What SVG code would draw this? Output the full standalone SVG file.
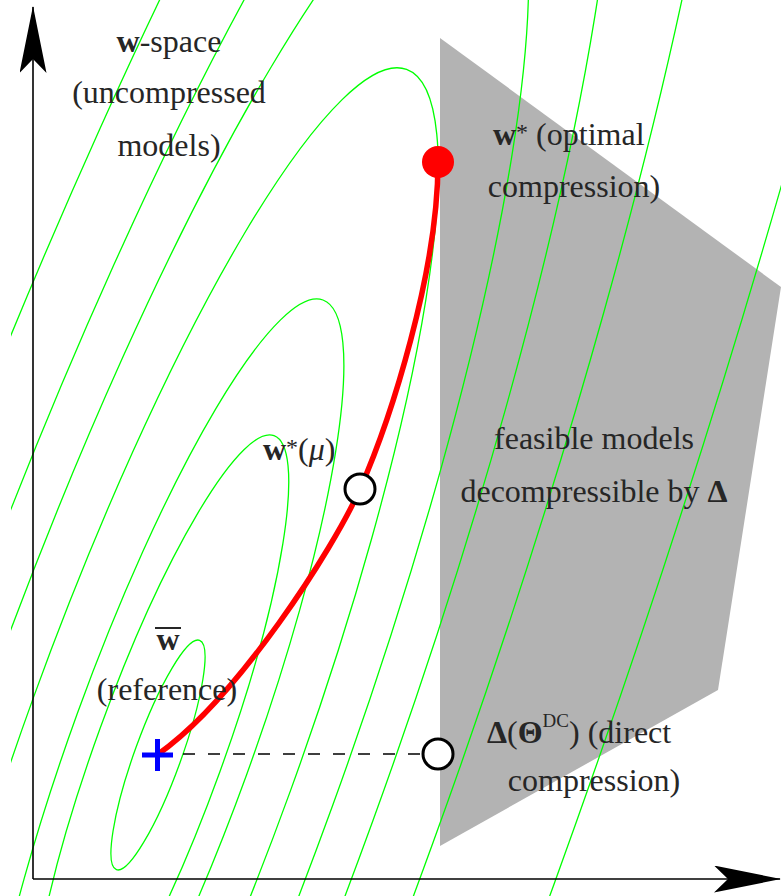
<svg xmlns="http://www.w3.org/2000/svg" width="781" height="896" viewBox="0 0 781 896">
<style>
.t{font-family:"Liberation Serif","DejaVu Serif",serif;font-size:32px;fill:#262626}
.c{text-anchor:middle}
.b{font-weight:bold}
.sup{font-size:24px}
.dc{font-size:19px}
.ct{fill:none;stroke:#00ff00;stroke-width:1.3}
.ax{stroke:#000;stroke-width:1.6;fill:none}
.open{fill:#fff;stroke:#000;stroke-width:3}
</style>
<defs>
<clipPath id="clip"><rect x="11" y="0" width="770" height="896"/></clipPath>
<marker id="arr" markerUnits="userSpaceOnUse" viewBox="0 0 67 27" refX="66" refY="13.5" markerWidth="67" markerHeight="27" orient="auto">
<path d="M0,0 L67,13.5 L0,27 L14,13.5 Z" fill="#000"/>
</marker>
</defs>
<rect width="781" height="896" fill="#fff"/>

<g id="feasible-region">
<polygon points="440,38 781,287 718,690 440,846" fill="#b3b3b3"/>
</g>

<g id="contours" clip-path="url(#clip)">
<ellipse class="ct" cx="158" cy="755" rx="122" ry="23.26" transform="rotate(-70.07 158 755)"/>
<ellipse class="ct" cx="160" cy="750" rx="334.4" ry="63.7" transform="rotate(-70.07 160 750)"/>
<ellipse class="ct" cx="162" cy="744" rx="472.3" ry="90" transform="rotate(-70.07 162 744)"/>
<ellipse class="ct" cx="162" cy="744" rx="717.6" ry="136.7" transform="rotate(-70.07 162 744)"/>
<ellipse class="ct" cx="162" cy="744" rx="951.9" ry="181.4" transform="rotate(-70.07 162 744)"/>
<ellipse class="ct" cx="162" cy="744" rx="1177.7" ry="224.4" transform="rotate(-70.07 162 744)"/>
<ellipse class="ct" cx="162" cy="744" rx="1513.3" ry="288.4" transform="rotate(-70.07 162 744)"/>
<ellipse class="ct" cx="162" cy="744" rx="2184.5" ry="416.3" transform="rotate(-70.07 162 744)"/>
</g>

<g id="axes">
<line class="ax" x1="33" y1="879" x2="33" y2="7" marker-end="url(#arr)"/>
<line class="ax" x1="33" y1="879" x2="780" y2="879" marker-end="url(#arr)"/>
</g>

<g id="connectors">
<line x1="183" y1="754" x2="432" y2="754" stroke="#000" stroke-width="1.5" stroke-dasharray="12 13"/>
<path d="M157,755 C237,699 333.6,549 360,489 C390.8,419 438,272 438,162" fill="none" stroke="#ff0000" stroke-width="5.5"/>
</g>

<g id="wspace-label">
<text class="t c" x="169" y="52"><tspan class="b">w</tspan>-space</text>
<text class="t c" x="169" y="103">(uncompressed</text>
<text class="t c" x="169" y="156">models)</text>
</g>

<g id="w-star">
<circle cx="438" cy="162" r="16" fill="#ff0000"/>
<text class="t" x="493" y="145"><tspan class="b">w</tspan><tspan class="sup" dy="-5">*</tspan><tspan dy="5"> (optimal</tspan></text>
<text class="t c" x="574" y="197">compression)</text>
</g>

<g id="w-mu">
<circle class="open" cx="360" cy="489" r="15"/>
<text class="t" x="263" y="460"><tspan class="b">w</tspan><tspan class="sup" dy="-5">*</tspan><tspan dy="5">(</tspan><tspan font-style="italic">μ</tspan>)</text>
</g>

<g id="feasible-label">
<text class="t c" x="594" y="449">feasible models</text>
<text class="t c" x="594" y="502">decompressible by <tspan class="b">Δ</tspan></text>
</g>

<g id="w-bar">
<path d="M142,755 H173 M157.5,739 V771" stroke="#0000ff" stroke-width="5" fill="none"/>
<line x1="155" y1="628" x2="181" y2="628" stroke="#262626" stroke-width="2"/>
<text class="t c b" x="168" y="650">w</text>
<text class="t c" x="167" y="700">(reference)</text>
</g>

<g id="delta-dc">
<circle class="open" cx="438" cy="754" r="15"/>
<text class="t" x="487" y="743"><tspan class="b">Δ</tspan>(<tspan class="b">Θ</tspan><tspan class="dc" dy="-16">DC</tspan><tspan dy="16">) (direct</tspan></text>
<text class="t c" x="594" y="791">compression)</text>
</g>
</svg>
